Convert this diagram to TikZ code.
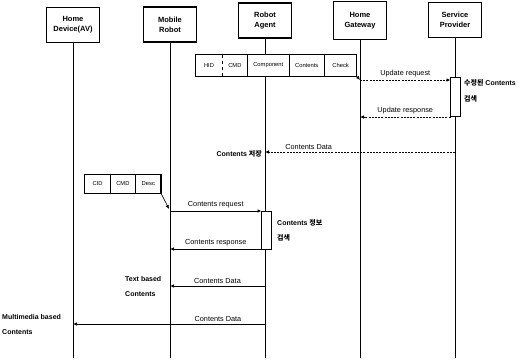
\documentclass[tikz,border=0pt]{standalone}
\usepackage{fontspec}
\setmainfont{Liberation Sans}
\newfontfamily\krfont{Noto Sans CJK KR}
\usetikzlibrary{arrows.meta}
\usetikzlibrary{positioning}

\begin{document}
\begin{tikzpicture}[x=1pt,y=-1pt,
  every node/.style={font=\fontsize{7.3}{8}\selectfont},
  actor/.style={draw,line width=1.2pt,align=center,minimum width=53pt,minimum height=35pt,inner sep=1pt,font=\bfseries\fontsize{7.5}{10}\selectfont},
  cell/.style={minimum height=21pt,inner sep=0pt,font=\fontsize{5.8}{6}\selectfont},
  life/.style={line width=1pt},
  msg/.style={line width=0.8pt,-{Latex[length=4pt,width=3.5pt]}},
  reply/.style={msg,dashed,dash pattern=on 2pt off 1.2pt},
  act/.style={draw,line width=0.8pt,fill=white,minimum width=10pt,inner sep=0pt},
  note/.style={align=left,font=\bfseries\fontsize{7}{15}\selectfont,inner sep=1pt},
  lbl/.style={above=1.5pt,inner sep=1pt}]
  \useasboundingbox (0,0) rectangle (523,361);

  % participants
  \node[actor] (hd) at (73,25) {Home\\Device(AV)};
  \node[actor] (mr) at (170,24.5) {Mobile\\Robot};
  \node[actor] (ra) at (265,20.5) {Robot\\Agent};
  \node[actor,minimum height=38pt] (hg) at (360,20.5) {Home\\Gateway};
  \node[actor] (sp) at (455,20) {Service\\Provider};

  \coordinate (hdend) at (73,358);
  \coordinate (mrend) at (170,358);
  \coordinate (raend) at (265,358);
  \coordinate (hgend) at (360,358);
  \coordinate (spend) at (455,358);

  \draw[life] (hd) -- (hdend);
  \draw[life] (mr) -- (mrend);
  \draw[life] (ra) -- (raend);
  \draw[life] (hg) -- (hgend);
  \draw[life] (sp) -- (spend);

  % message format (gateway)
  \node[cell,minimum width=26pt] (hid) at (209,65.5) {HID};
  \node[cell,minimum width=25pt,right=0pt of hid] (cmd) {CMD};
  \node[cell,minimum width=41pt,right=0pt of cmd] (comp) {Component};
  \node[cell,minimum width=35pt,right=0pt of comp] (cont) {Contents};
  \node[cell,minimum width=32pt,right=0pt of cont] (chk) {Check};
  \draw[line width=1.2pt,fill=white] (hid.north west) rectangle (chk.south east);
  \node[cell,minimum width=26pt] at (hid) {HID};
  \node[cell,minimum width=25pt] at (cmd) {CMD};
  \node[cell,minimum width=41pt] at (comp) {Component};
  \node[cell,minimum width=35pt] at (cont) {Contents};
  \node[cell,minimum width=32pt] at (chk) {Check};
  \draw[dashed,line width=0.6pt] (cmd.north west) -- (cmd.south west);
  \draw[line width=0.8pt] (comp.north west) -- (comp.south west);
  \draw[line width=0.8pt] (cont.north west) -- (cont.south west);
  \draw[line width=0.8pt] (chk.north west) -- (chk.south west);

  % message format (robot)
  \node[cell,minimum width=25pt,minimum height=18pt] (cid) at (97.5,184) {CID};
  \node[cell,minimum width=25pt,minimum height=18pt,right=0pt of cid] (cmdb) {CMD};
  \node[cell,minimum width=25pt,minimum height=18pt,right=0pt of cmdb] (desc) {Desc};
  \draw[line width=1.2pt] (cid.north west) rectangle (desc.south east);
  \draw[line width=0.8pt] (cmdb.north west) -- (cmdb.south west);
  \draw[line width=0.8pt] (desc.north west) -- (desc.south west);

  % activations
  \node[act,minimum height=39pt] (spact) at (455.5,96.5) {};
  \node[act,minimum height=38pt] (raact) at (266.5,230) {};
  \node[note,anchor=north west,font=\bfseries\fontsize{7}{16}\selectfont] (spnote) at (463,78) {{\krfont\bfseries 수정된} Contents\\{\krfont\bfseries 검색}};
  \node[note,anchor=north west] (ranote) at (276,218) {Contents {\krfont\bfseries 정보}\\{\krfont\bfseries 검색}};

  % message end points
  \coordinate (hg1) at (360,80);
  \coordinate (sp1) at (450.5,80);
  \coordinate (sp2) at (450.5,117);
  \coordinate (hg2) at (360,117);
  \coordinate (sp3) at (455,152);
  \coordinate (ra3) at (265,152);
  \coordinate (mr4) at (170,211);
  \coordinate (ra4) at (261.5,211);
  \coordinate (ra5) at (261.5,249);
  \coordinate (mr5) at (170,249);
  \coordinate (ra6) at (265,286);
  \coordinate (mr6) at (170,286);
  \coordinate (ra7) at (265,324);
  \coordinate (hd7) at (73,324);
  \coordinate (mrin) at (169,209);

  \draw[msg,line width=0.6pt] (chk.south east) -- (hg1);
  \draw[reply] (hg1) -- (sp1) node[lbl,midway] (l1) {Update request};
  \draw[reply] (sp2) -- (hg2) node[lbl,midway] (l2) {Update response};
  \draw[reply] (sp3) -- (ra3) node[lbl,pos=0.77] (l3) {Contents Data};
  \node[note,left=2pt of ra3,yshift=-2pt] (store) {Contents {\krfont\bfseries 저장}};

  \draw[msg,line width=0.6pt] (desc.south east) -- (mrin);
  \draw[msg] (mr4) -- (ra4) node[lbl,midway] (l4) {Contents request};
  \draw[msg] (ra5) -- (mr5) node[lbl,midway] (l5) {Contents response};
  \draw[msg] (ra6) -- (mr6) node[lbl,midway] (l6) {Contents Data};
  \node[note,anchor=north west] (txt) at (124,275) {Text based\\Contents};
  \draw[msg] (ra7) -- (hd7) node[lbl,pos=0.245] (l7) {Contents Data};
  \node[note,anchor=north west] (mm) at (1,313) {Multimedia based\\Contents};
\end{tikzpicture}
\end{document}
